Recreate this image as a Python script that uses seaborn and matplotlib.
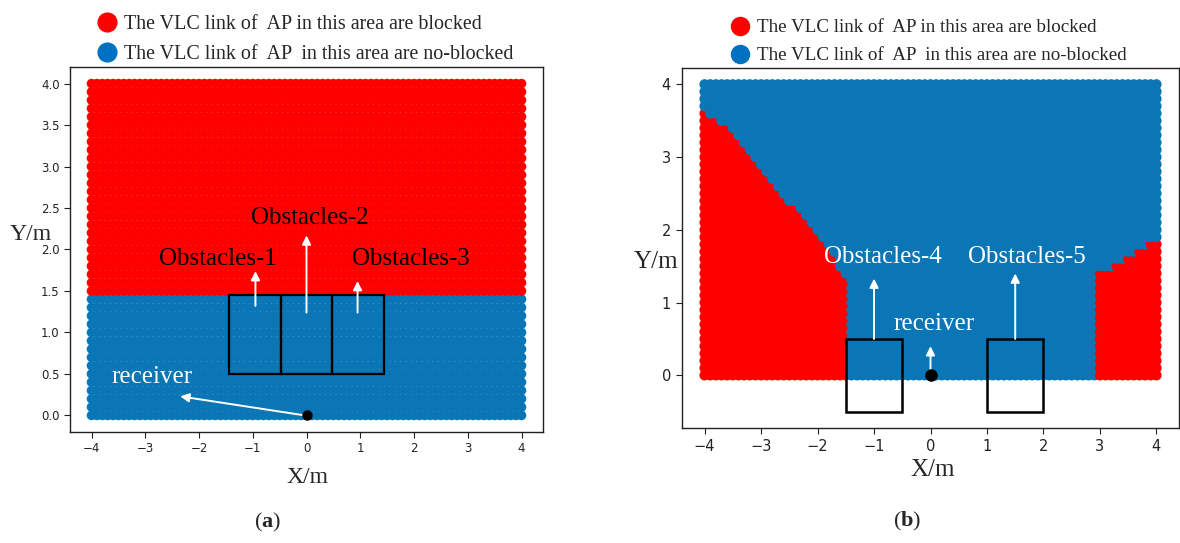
import numpy as np
import pandas as pd
import matplotlib
matplotlib.use("Agg")
import matplotlib.pyplot as plt
from matplotlib.lines import Line2D
from matplotlib.patches import Rectangle
import seaborn as sns

# ---------------------------------------------------------------------------
# Receiver-plane sample grid (metres)
grid_x = np.round(np.arange(-4.0, 4.0001, 0.1), 1)
grid_y = np.round(np.arange(0.0, 4.0001, 0.1), 1)

# Scenario (a): the AP link is blocked for every sample at or above this height
blocked_from_y_a = 1.5

# Scenario (b): highest blocked sample in each column of the two shadow zones
left_cols_b = [-4.0, -3.9, -3.8, -3.7, -3.6, -3.5, -3.4, -3.3, -3.2, -3.1,
               -3.0, -2.9, -2.8, -2.7, -2.6, -2.5, -2.4, -2.3, -2.2, -2.1,
               -2.0, -1.9, -1.8, -1.7, -1.6, -1.5]
left_top_b = [3.6, 3.55, 3.55, 3.45, 3.4, 3.3, 3.2, 3.1, 3.0, 2.9,
              2.8, 2.7, 2.6, 2.5, 2.4, 2.3, 2.3, 2.2, 2.1, 2.0,
              1.9, 1.8, 1.7, 1.6, 1.45, 1.35]
right_cols_b = [3.0, 3.1, 3.2, 3.3, 3.4, 3.5, 3.6, 3.7, 3.8, 3.9, 4.0]
right_top_b = [1.4, 1.4, 1.4, 1.5, 1.5, 1.6, 1.6, 1.7, 1.7, 1.8, 1.8]

# Obstacles
obstacle_edges_a = [-1.45, -0.48, 0.48, 1.45]
obstacle_span_a = (0.5, 1.45)
obstacles_b = [(-1.5, -0.5), (1.0, 2.0)]
obstacle_span_b = (-0.5, 0.5)
receiver = (0.0, 0.0)

STATE_BLOCKED = "blocked"
STATE_OPEN = "no-blocked"
legend_labels = ["The VLC link of  AP in this area are blocked",
                 "The VLC link of  AP  in this area are no-blocked"]

RED = "#ff0000"
BLUE = "#0a76b6"
palette = {STATE_BLOCKED: RED, STATE_OPEN: BLUE}

# ---------------------------------------------------------------------------
gx, gy = np.meshgrid(grid_x, grid_y)
df_a = pd.DataFrame({"x": gx.ravel(), "y": gy.ravel()})
df_a["state"] = np.where(df_a["y"] >= blocked_from_y_a - 1e-9,
                         STATE_BLOCKED, STATE_OPEN)

df_b = pd.DataFrame({"x": gx.ravel(), "y": gy.ravel()})
top_lookup = dict(zip(left_cols_b + right_cols_b, left_top_b + right_top_b))
tops = df_b["x"].map(top_lookup)
df_b["state"] = np.where(tops.notna() & (df_b["y"] <= tops.fillna(-1) + 1e-9),
                         STATE_BLOCKED, STATE_OPEN)

# ---------------------------------------------------------------------------
sns.set_style("ticks")
plt.rcParams["font.family"] = ["DejaVu Sans"]
plt.rcParams["mathtext.fontset"] = "custom"
plt.rcParams["mathtext.bf"] = "Liberation Serif:bold"
plt.rcParams["mathtext.rm"] = "Liberation Serif"
SERIF = ["Liberation Serif", "DejaVu Serif"]

W, H = 1180, 543
fig = plt.figure(figsize=(W / 100, H / 100), dpi=100)


def px_axes(left, top, right, bottom):
    return fig.add_axes([left / W, 1 - bottom / H, (right - left) / W, (bottom - top) / H])


ax_a = px_axes(70, 67, 543, 432)
ax_b = px_axes(682, 68, 1179, 428)

for ax, df, s in [(ax_a, df_a, 48), (ax_b, df_b, 56)]:
    sns.scatterplot(data=df, x="x", y="y", hue="state", palette=palette,
                    s=s, linewidth=0, legend=False, ax=ax, zorder=1)
    for sp in ax.spines.values():
        sp.set_visible(True)
        sp.set_color("#222222")
        sp.set_linewidth(1.0)
    ax.set_facecolor("white")
    ax.grid(False)

# ---- panel (a) ------------------------------------------------------------
ax_a.set_xlim(-4.4, 4.4)
ax_a.set_ylim(-0.2, 4.2)
ax_a.set_xticks(np.arange(-4, 5, 1))
ax_a.set_yticks(np.arange(0, 4.01, 0.5))
ax_a.set_yticklabels([f"{v:.1f}" for v in np.arange(0, 4.01, 0.5)])
ax_a.tick_params(labelsize=8.5, length=4, color="#222222", labelcolor="#222222")

for x0, x1 in zip(obstacle_edges_a[:-1], obstacle_edges_a[1:]):
    ax_a.add_patch(Rectangle((x0, obstacle_span_a[0]), x1 - x0,
                             obstacle_span_a[1] - obstacle_span_a[0],
                             fill=False, edgecolor="black", lw=1.6, zorder=3))

arrow_kw = dict(arrowstyle="-|>", color="white", lw=1.4, mutation_scale=13,
                shrinkA=0, shrinkB=0)
for tail, tip in [((-0.95, 1.32), (-0.95, 1.74)),
                  ((0.0, 1.24), (0.0, 2.17)),
                  ((0.95, 1.24), (0.95, 1.62)),
                  ((-0.03, 0.0), (-2.35, 0.23))]:
    ax_a.annotate("", xy=tip, xytext=tail, arrowprops=arrow_kw, zorder=4)

for txt, (tx, ty) in [("Obstacles-1", (-1.65, 1.88)),
                      ("Obstacles-2", (0.06, 2.38)),
                      ("Obstacles-3", (1.94, 1.88))]:
    ax_a.text(tx, ty, txt, family=SERIF, fontsize=18, color="black",
              ha="center", va="center", zorder=5)
ax_a.text(-2.87, 0.46, "receiver", family=SERIF, fontsize=18, color="white",
          ha="center", va="center", zorder=5)
ax_a.plot(*receiver, "o", color="black", markersize=6.5, zorder=5)

ax_a.set_xlabel("X/m", family=SERIF, fontsize=17)
ax_a.xaxis.set_label_coords(0.503, -0.126)
ax_a.xaxis.label.set_va("center")
ax_a.set_ylabel("Y/m", family=SERIF, fontsize=17, rotation=0, ha="center", va="center")
ax_a.yaxis.set_label_coords(-0.082, 0.540)

# ---- panel (b) ------------------------------------------------------------
ax_b.set_xlim(-4.4, 4.4)
ax_b.set_ylim(-0.725, 4.225)
ax_b.set_xticks(np.arange(-4, 5, 1))
ax_b.set_yticks(np.arange(0, 5, 1))
ax_b.tick_params(labelsize=10.5, length=4.5, color="#222222", labelcolor="#222222")

for x0, x1 in obstacles_b:
    ax_b.add_patch(Rectangle((x0, obstacle_span_b[0]), x1 - x0,
                             obstacle_span_b[1] - obstacle_span_b[0],
                             fill=False, edgecolor="black", lw=1.8, zorder=3))

for tail, tip in [((-1.0, 0.5), (-1.0, 1.33)),
                  ((1.5, 0.5), (1.5, 1.40)),
                  ((0.0, 0.07), (0.0, 0.40))]:
    ax_b.annotate("", xy=tip, xytext=tail, arrowprops=arrow_kw, zorder=4)

for txt, (tx, ty) in [("Obstacles-4", (-0.84, 1.63)),
                      ("Obstacles-5", (1.70, 1.63)),
                      ("receiver", (0.07, 0.70))]:
    ax_b.text(tx, ty, txt, family=SERIF, fontsize=18, color="white",
              ha="center", va="center", zorder=5)
ax_b.plot(*receiver, "o", color="black", markersize=8, zorder=5)

ax_b.set_xlabel("X/m", family=SERIF, fontsize=18)
ax_b.xaxis.set_label_coords(0.505, -0.117)
ax_b.xaxis.label.set_va("center")
ax_b.set_ylabel("Y/m", family=SERIF, fontsize=18, rotation=0, ha="center", va="center")
ax_b.yaxis.set_label_coords(-0.052, 0.461)

# ---- legends and panel tags ------------------------------------------------
def state_handles(ms):
    return [Line2D([], [], marker="o", linestyle="", markersize=ms,
                   markerfacecolor=c, markeredgecolor=c)
            for c in (RED, "#0070c0")]


for (lx, ly), fs, ms, sp in [((97, 15), 14.4, 13.5, 0.55), ((731, 19), 13.7, 13.0, 0.56)]:
    fig.legend(handles=state_handles(ms), labels=legend_labels,
               loc="upper left", bbox_to_anchor=(lx / W, 1 - ly / H),
               frameon=False, borderpad=0, borderaxespad=0,
               handlelength=0.95, handletextpad=0.4, labelspacing=sp,
               prop={"family": SERIF, "size": fs})

fig.text(268 / W, 1 - 522 / H, r"($\mathbf{a}$)", family=SERIF, fontsize=16,
         ha="center", va="center")
fig.text(907 / W, 1 - 521 / H, r"($\mathbf{b}$)", family=SERIF, fontsize=16,
         ha="center", va="center")

fig.savefig("out.png", dpi=100, facecolor="white")
